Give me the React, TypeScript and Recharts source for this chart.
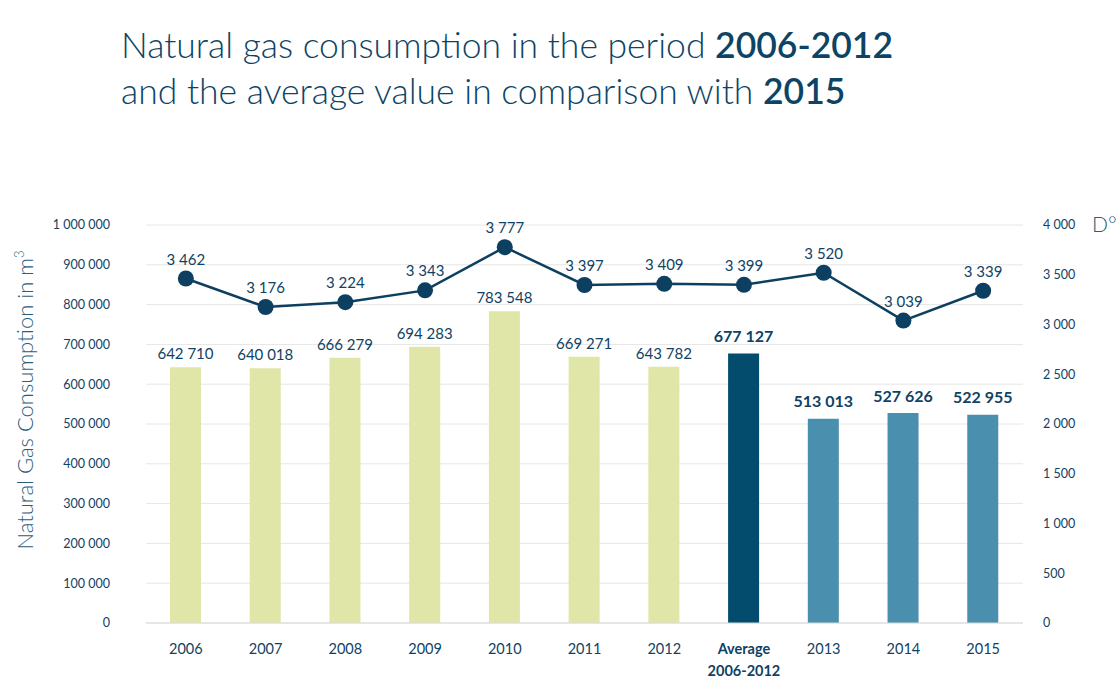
import React from 'react';
import { ComposedChart, Bar, Line, XAxis, YAxis, CartesianGrid, Cell, LabelList } from 'recharts';

const categories = ['2006', '2007', '2008', '2009', '2010', '2011', '2012', 'Average\n2006-2012', '2013', '2014', '2015'];
const consumption = [642710, 640018, 666279, 694283, 783548, 669271, 643782, 677127, 513013, 527626, 522955];
const degreeDays = [3462, 3176, 3224, 3343, 3777, 3397, 3409, 3399, 3520, 3039, 3339];
const barGroups = ['past', 'past', 'past', 'past', 'past', 'past', 'past', 'avg', 'recent', 'recent', 'recent'];
const leftTicks = [0, 100000, 200000, 300000, 400000, 500000, 600000, 700000, 800000, 900000, 1000000];
const rightTicks = [0, 500, 1000, 1500, 2000, 2500, 3000, 3500, 4000];

const groupColors: Record<string, string> = { past: '#dfe6a8', avg: '#034c6d', recent: '#4a8fae' };
const TEXT = '#0f4264';
const FONT = 'Lato, "Open Sans", sans-serif';

const data = categories.map((c, i) => ({
  name: c,
  consumption: consumption[i],
  dd: degreeDays[i],
  group: barGroups[i],
}));

const fmt = (v: number) => String(Math.round(v)).replace(/\B(?=(\d{3})+(?!\d))/g, ' ');

const XTick = (props: any) => {
  const { x, y, payload } = props;
  const lines = String(payload.value).split('\n');
  const bold = lines.length > 1;
  return (
    <g>
      {lines.map((l, i) => (
        <text key={i} x={x} y={y + i * 22} textAnchor="middle" dominantBaseline="central"
          fill={TEXT} fontSize={14.5} fontWeight={bold ? 700 : 400} fontFamily={FONT}>{l}</text>
      ))}
    </g>
  );
};

const BarLabel = (props: any) => {
  const { x, y, width, index } = props;
  const bold = barGroups[index] !== 'past';
  return (
    <text x={x + width / 2} y={y - (bold ? 18 : 14)} textAnchor="middle" dominantBaseline="central"
      fill={TEXT} fontSize={bold ? 16 : 15} fontWeight={bold ? 700 : 400} fontFamily={FONT}>
      {fmt(consumption[index])}
    </text>
  );
};

const LineLabel = (props: any) => {
  const { x, y, index } = props;
  return (
    <text x={x} y={y - 20} textAnchor="middle" dominantBaseline="central"
      fill={TEXT} fontSize={15} fontFamily={FONT}>
      {fmt(degreeDays[index])}
    </text>
  );
};

export default function App() {
  return (
    <div style={{ position: 'absolute', left: 0, top: 0, width: 1116, height: 695, background: '#fff', fontFamily: FONT }}>
      <div style={{ position: 'absolute', left: 121, top: 22, color: '#0d4466', fontSize: 35.5, fontWeight: 300, lineHeight: '46px', whiteSpace: 'nowrap' }}>
        <div>Natural gas consumption in the period <span style={{ fontWeight: 600 }}>2006-2012</span></div>
        <div>and the average value in comparison with <span style={{ fontWeight: 600 }}>2015</span></div>
      </div>
      <div style={{ position: 'absolute', left: 24, top: 400, transform: 'translate(-50%,-50%) rotate(-90deg)', color: '#2b5d7d', fontSize: 22, fontWeight: 300, whiteSpace: 'nowrap' }}>
        Natural Gas Consumption in m<sup style={{ fontSize: 13 }}>3</sup>
      </div>
      <div style={{ position: 'absolute', left: 1092, top: 211, color: '#2b5d7d', fontSize: 21, fontWeight: 300 }}>D°</div>
      <ComposedChart width={1116} height={695} data={data} margin={{ top: 225, right: 0, bottom: 0, left: 0 }}>
        <CartesianGrid vertical={false} stroke="#e6e6e6" yAxisId="left" />
        <XAxis dataKey="name" height={72} tick={<XTick />} tickLine={false} axisLine={{ stroke: '#d9d9d9' }}
          tickSize={0} tickMargin={25} interval={0} />
        <YAxis yAxisId="left" orientation="left" width={146} domain={[0, 1000000]} ticks={leftTicks}
          tickFormatter={fmt} tickLine={false} axisLine={false} tickSize={0} tickMargin={36}
          tick={{ fill: TEXT, fontSize: 12.5, fontFamily: FONT }} interval={0} />
        <YAxis yAxisId="right" orientation="right" width={93} domain={[0, 4000]} ticks={rightTicks}
          tickFormatter={fmt} tickLine={false} axisLine={false} tickSize={0} tickMargin={20}
          tick={{ fill: TEXT, fontSize: 12.5, fontFamily: FONT, textAnchor: 'start' }} interval={0} />
        <Bar yAxisId="left" dataKey="consumption" barSize={31} isAnimationActive={false}>
          {data.map((d, i) => (
            <Cell key={i} fill={groupColors[d.group]} />
          ))}
          <LabelList dataKey="consumption" content={<BarLabel />} />
        </Bar>
        <Line yAxisId="right" dataKey="dd" stroke="#0d3f60" strokeWidth={2.5} isAnimationActive={false}
          dot={{ r: 8, fill: '#0d3f60', stroke: '#0d3f60', strokeWidth: 0 }} activeDot={false}>
          <LabelList dataKey="dd" content={<LineLabel />} />
        </Line>
      </ComposedChart>
    </div>
  );
}
